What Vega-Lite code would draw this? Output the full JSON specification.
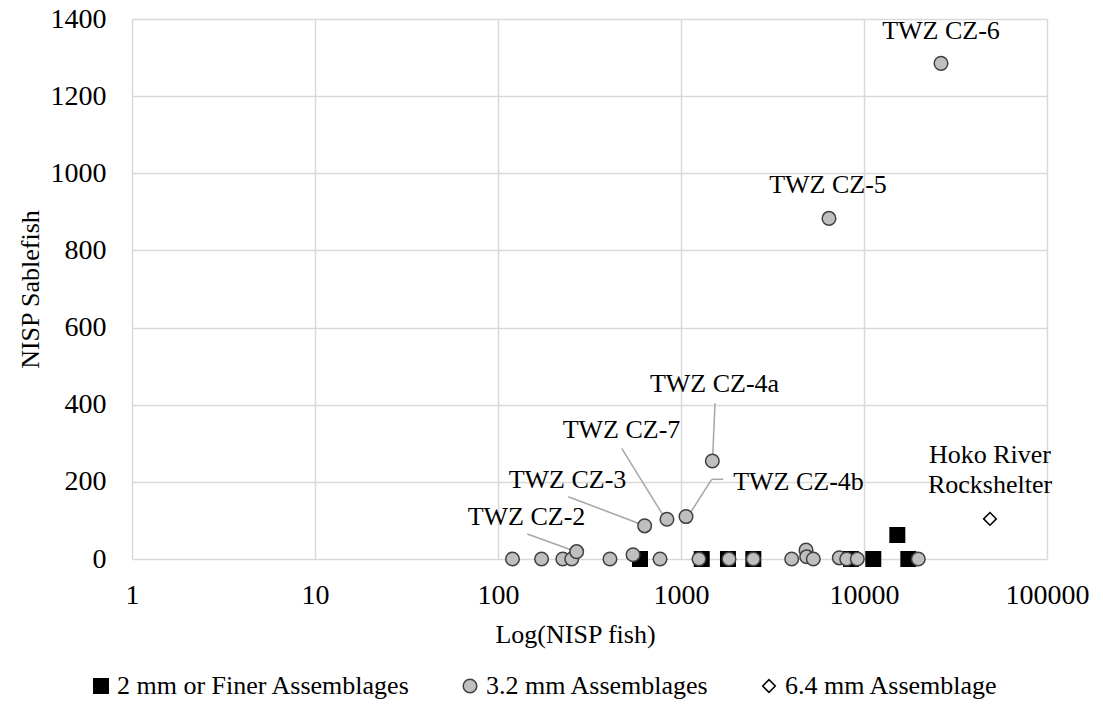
{
  "$schema": "https://vega.github.io/schema/vega-lite/v6.json",
  "width": 915,
  "height": 540,
  "autosize": {"type": "none"},
  "padding": {"left": 132, "top": 19, "right": 56, "bottom": 145},
  "background": "white",
  "config": {
    "view": {"stroke": null},
    "text": {"font": "Liberation Serif"},
    "axis": {
      "grid": true, "gridColor": "#D9D9D9", "gridWidth": 1.5,
      "domain": false, "ticks": false,
      "labelFont": "Liberation Serif", "labelFontSize": 28, "labelColor": "#000000",
      "titleFont": "Liberation Serif", "titleFontSize": 26, "titleFontWeight": "normal", "titleColor": "#000000"
    },
    "legend": {"labelFont": "Liberation Serif", "titleFont": "Liberation Serif"}
  },
  "datasets": {
    "points": [
      {"series": "2 mm or Finer Assemblages", "x": 597, "y": 0},
      {"series": "2 mm or Finer Assemblages", "x": 1298, "y": 0},
      {"series": "2 mm or Finer Assemblages", "x": 1806, "y": 0},
      {"series": "2 mm or Finer Assemblages", "x": 2484, "y": 0},
      {"series": "2 mm or Finer Assemblages", "x": 8492, "y": 0},
      {"series": "2 mm or Finer Assemblages", "x": 11240, "y": 0},
      {"series": "2 mm or Finer Assemblages", "x": 15210, "y": 62},
      {"series": "2 mm or Finer Assemblages", "x": 17470, "y": 0},
      {"series": "3.2 mm Assemblages", "x": 120, "y": 0},
      {"series": "3.2 mm Assemblages", "x": 173, "y": 0},
      {"series": "3.2 mm Assemblages", "x": 226, "y": 0},
      {"series": "3.2 mm Assemblages", "x": 253, "y": 0},
      {"series": "3.2 mm Assemblages", "x": 269, "y": 19},
      {"series": "3.2 mm Assemblages", "x": 409, "y": 0},
      {"series": "3.2 mm Assemblages", "x": 547, "y": 11},
      {"series": "3.2 mm Assemblages", "x": 633, "y": 86},
      {"series": "3.2 mm Assemblages", "x": 768, "y": 0},
      {"series": "3.2 mm Assemblages", "x": 838, "y": 103},
      {"series": "3.2 mm Assemblages", "x": 1065, "y": 110},
      {"series": "3.2 mm Assemblages", "x": 1254, "y": 0},
      {"series": "3.2 mm Assemblages", "x": 1483, "y": 254},
      {"series": "3.2 mm Assemblages", "x": 1829, "y": 0},
      {"series": "3.2 mm Assemblages", "x": 2484, "y": 0},
      {"series": "3.2 mm Assemblages", "x": 4026, "y": 0},
      {"series": "3.2 mm Assemblages", "x": 4822, "y": 23},
      {"series": "3.2 mm Assemblages", "x": 4864, "y": 6},
      {"series": "3.2 mm Assemblages", "x": 5284, "y": 0},
      {"series": "3.2 mm Assemblages", "x": 6437, "y": 883},
      {"series": "3.2 mm Assemblages", "x": 7328, "y": 3},
      {"series": "3.2 mm Assemblages", "x": 8045, "y": 0},
      {"series": "3.2 mm Assemblages", "x": 9192, "y": 0},
      {"series": "3.2 mm Assemblages", "x": 19800, "y": 0},
      {"series": "3.2 mm Assemblages", "x": 26350, "y": 1285},
      {"series": "6.4 mm Assemblage", "x": 48800, "y": 104}
    ],
    "labels": [
      {"label": "TWZ CZ-2", "x": 143.1, "y": 109.7},
      {"label": "TWZ CZ-3", "x": 239.8, "y": 204.8},
      {"label": "TWZ CZ-7", "x": 473.1, "y": 334.4},
      {"label": "TWZ CZ-4a", "x": 1524, "y": 453.7},
      {"label": "TWZ CZ-4b", "x": 4387, "y": 200.4},
      {"label": "TWZ CZ-5", "x": 6358, "y": 969.6},
      {"label": "TWZ CZ-6", "x": 26350, "y": 1368.9},
      {"label": "Hoko River\nRockshelter", "x": 48810, "y": 269.6}
    ],
    "leaders": [
      {"label": "TWZ CZ-2", "x": 144.6, "y": 64.8, "x2": 252.7, "y2": 23.3},
      {"label": "TWZ CZ-3", "x": 242.2, "y": 161.5, "x2": 584.4, "y2": 92.6},
      {"label": "TWZ CZ-7", "x": 474.3, "y": 287.0, "x2": 807.5, "y2": 109.7},
      {"label": "TWZ CZ-4a", "x": 1534, "y": 403.7, "x2": 1490, "y2": 265.2},
      {"label": "TWZ CZ-4b", "x": 1702, "y": 206.6, "x2": 1472, "y2": 206.6},
      {"label": "TWZ CZ-4b", "x": 1472, "y": 206.6, "x2": 1120, "y2": 118.5}
    ]
  },
  "encoding": {
    "x": {
      "field": "x", "type": "quantitative",
      "scale": {"type": "log", "domain": [1, 100000], "nice": false},
      "axis": {
        "title": "Log(NISP fish)",
        "values": [1, 10, 100, 1000, 10000, 100000],
        "format": "d", "labelPadding": 22, "labelFlush": false, "labelOverlap": false,
        "labelFont": "Liberation Serif", "titleFont": "Liberation Serif",
        "titleX": 443, "titleY": 75, "titleBaseline": "middle"
      }
    },
    "y": {
      "field": "y", "type": "quantitative",
      "scale": {"domain": [0, 1400], "nice": false},
      "axis": {
        "title": "NISP Sablefish",
        "values": [0, 200, 400, 600, 800, 1000, 1200, 1400],
        "format": "d", "labelPadding": 26,
        "labelFont": "Liberation Serif", "titleFont": "Liberation Serif",
        "titleX": -102, "titleY": 270, "titleBaseline": "middle", "titleAngle": 270
      }
    }
  },
  "layer": [
    {
      "data": {"name": "leaders"},
      "mark": {"type": "rule", "color": "#A6A6A6", "strokeWidth": 1.5},
      "encoding": {"x2": {"field": "x2"}, "y2": {"field": "y2"}}
    },
    {
      "data": {"name": "points"},
      "mark": {"type": "point", "strokeWidth": 1.5, "opacity": 1, "fillOpacity": 1, "strokeOpacity": 1},
      "encoding": {
        "shape": {
          "field": "series", "type": "nominal",
          "scale": {"domain": ["2 mm or Finer Assemblages", "3.2 mm Assemblages", "6.4 mm Assemblage"], "range": ["square", "circle", "diamond"]},
          "legend": {
            "title": null, "orient": "none", "legendX": -44, "legendY": 654, "direction": "horizontal",
            "labelFont": "Liberation Serif", "labelFontSize": 26, "labelColor": "#000000", "labelLimit": 500,
            "labelOffset": 3, "columnPadding": 46, "symbolStrokeWidth": 1.5
          }
        },
        "fill": {
          "field": "series", "type": "nominal",
          "scale": {"domain": ["2 mm or Finer Assemblages", "3.2 mm Assemblages", "6.4 mm Assemblage"], "range": ["#000000", "#BFBFBF", "#FFFFFF"]},
          "legend": {"title": null}
        },
        "stroke": {
          "field": "series", "type": "nominal",
          "scale": {"domain": ["2 mm or Finer Assemblages", "3.2 mm Assemblages", "6.4 mm Assemblage"], "range": ["#000000", "#404040", "#000000"]},
          "legend": {"title": null}
        },
        "size": {
          "field": "series", "type": "nominal",
          "scale": {"domain": ["2 mm or Finer Assemblages", "3.2 mm Assemblages", "6.4 mm Assemblage"], "range": [210, 160, 270]},
          "legend": {"title": null}
        }
      }
    },
    {
      "data": {"name": "labels"},
      "mark": {"type": "text", "font": "Liberation Serif", "fontSize": 26, "color": "#000000", "align": "center", "baseline": "middle", "lineBreak": "\n", "lineHeight": 30},
      "encoding": {"text": {"field": "label"}}
    }
  ]
}
